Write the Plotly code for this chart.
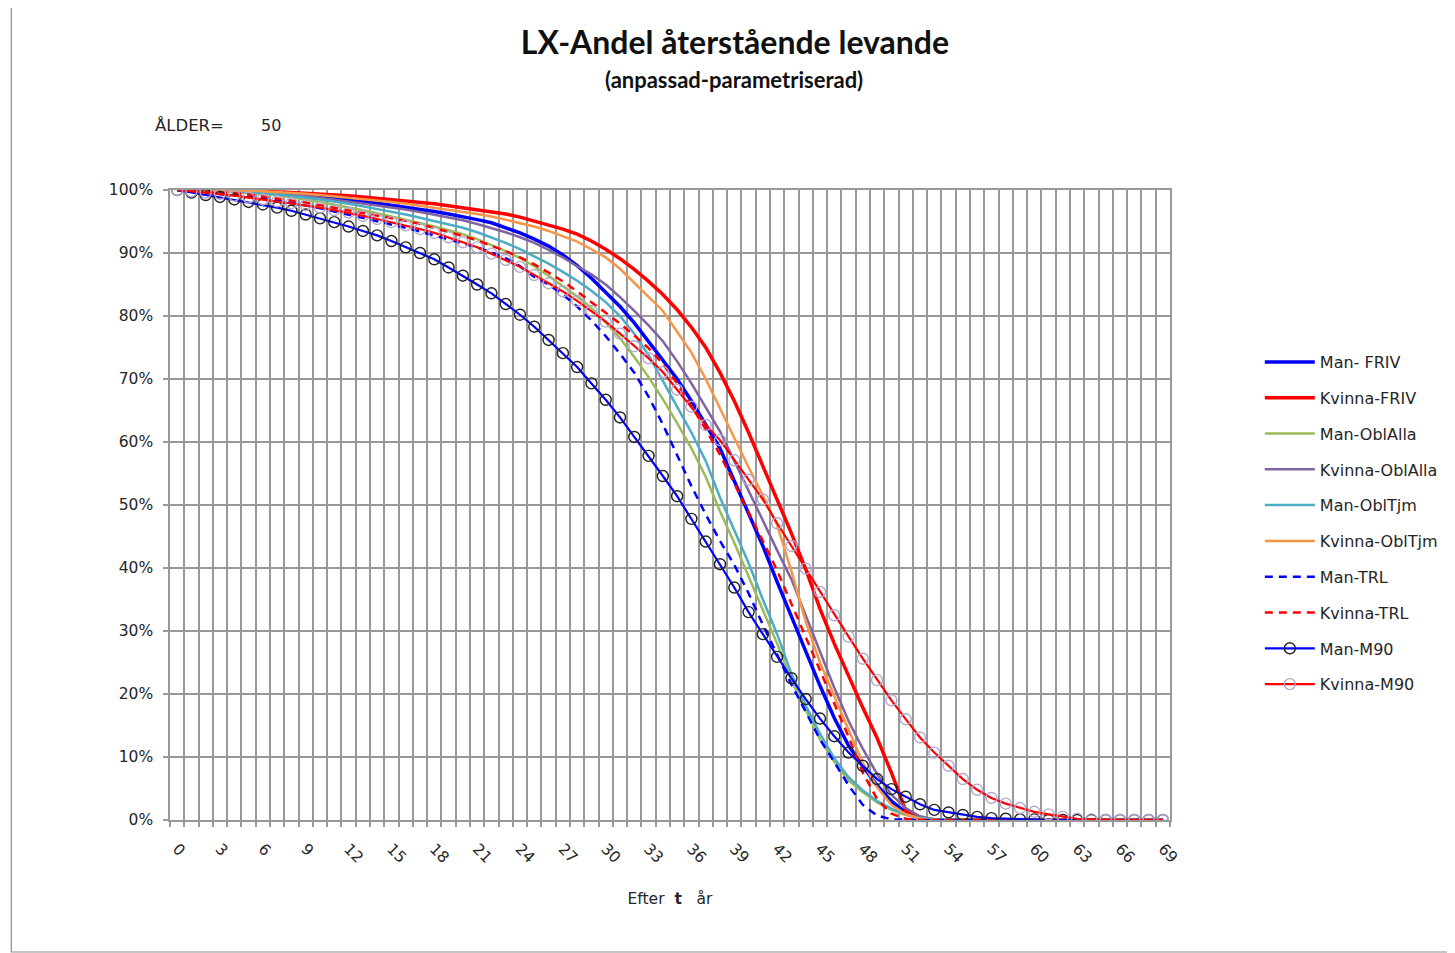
import plotly.graph_objects as go

t_years = list(range(70))
tick_labels = [str(v) for v in range(0, 70, 3)]

man_friv = [1.000,1.000,0.999,0.999,0.998,0.997,0.996,0.995,0.993,0.991,
            0.989,0.987,0.985,0.982,0.979,0.976,0.973,0.970,0.966,0.962,
            0.958,0.953,0.948,0.940,0.932,0.922,0.911,0.897,0.880,0.860,
            0.838,0.815,0.789,0.760,0.730,0.700,0.665,0.628,0.590,0.538,
            0.487,0.435,0.378,0.322,0.268,0.213,0.162,0.118,0.085,0.055,
            0.030,0.012,0.003,0,0,0,0,0,0,0,
            0,0,0,0,0,0,0,0,0,0]
kvinna_friv = [1.000,1.000,1.000,0.999,0.999,0.998,0.998,0.997,0.996,0.995,
               0.994,0.993,0.991,0.989,0.987,0.985,0.983,0.981,0.978,0.975,
               0.972,0.969,0.966,0.962,0.957,0.951,0.945,0.938,0.930,0.919,
               0.906,0.891,0.874,0.855,0.834,0.810,0.782,0.750,0.710,0.665,
               0.615,0.562,0.510,0.455,0.398,0.335,0.280,0.228,0.178,0.130,
               0.075,0.015,0.002,0,0,0,0,0,0,0,
               0,0,0,0,0,0,0,0,0,0]
man_oblalla = [1.000,1.000,0.999,0.998,0.997,0.995,0.994,0.992,0.989,0.985,
               0.981,0.977,0.973,0.968,0.963,0.958,0.953,0.948,0.942,0.936,
               0.930,0.922,0.913,0.903,0.892,0.879,0.864,0.848,0.831,0.813,
               0.790,0.765,0.735,0.703,0.668,0.630,0.590,0.545,0.490,0.440,
               0.387,0.335,0.280,0.222,0.175,0.128,0.092,0.063,0.044,0.028,
               0.016,0.008,0.003,0.001,0,0,0,0,0,0,
               0,0,0,0,0,0,0,0,0,0]
kvinna_oblalla = [1.000,1.000,1.000,0.999,0.999,0.998,0.997,0.996,0.994,0.991,
                  0.988,0.985,0.982,0.979,0.976,0.973,0.969,0.965,0.961,0.957,
                  0.952,0.946,0.940,0.933,0.925,0.916,0.905,0.893,0.879,0.866,
                  0.850,0.830,0.808,0.785,0.760,0.728,0.693,0.655,0.617,0.570,
                  0.522,0.475,0.428,0.382,0.325,0.265,0.210,0.157,0.113,0.073,
                  0.040,0.019,0.006,0.001,0,0,0,0,0,0,
                  0,0,0,0,0,0,0,0,0,0]
man_obltjm = [1.000,1.000,0.999,0.999,0.998,0.997,0.995,0.993,0.991,0.988,
              0.985,0.982,0.978,0.974,0.970,0.966,0.961,0.956,0.951,0.946,
              0.940,0.933,0.925,0.916,0.906,0.895,0.883,0.870,0.856,0.840,
              0.822,0.800,0.772,0.738,0.697,0.655,0.615,0.570,0.512,0.460,
              0.408,0.350,0.295,0.232,0.182,0.137,0.098,0.068,0.047,0.030,
              0.018,0.009,0.003,0.001,0,0,0,0,0,0,
              0,0,0,0,0,0,0,0,0,0]
kvinna_obltjm = [1.000,1.000,1.000,1.000,0.999,0.999,0.998,0.997,0.996,0.994,
                 0.992,0.990,0.988,0.986,0.984,0.981,0.978,0.975,0.972,0.969,
                 0.966,0.962,0.958,0.953,0.948,0.942,0.935,0.927,0.918,0.906,
                 0.893,0.875,0.853,0.830,0.808,0.775,0.742,0.700,0.653,0.605,
                 0.560,0.515,0.468,0.395,0.315,0.250,0.196,0.142,0.090,0.052,
                 0.024,0.009,0.002,0,0,0,0,0,0,0,
                 0,0,0,0,0,0,0,0,0,0]
man_trl = [1.000,0.998,0.996,0.994,0.992,0.990,0.987,0.984,0.980,0.976,
           0.971,0.966,0.961,0.956,0.951,0.946,0.940,0.934,0.928,0.922,
           0.916,0.909,0.901,0.892,0.879,0.862,0.850,0.834,0.815,0.793,
           0.768,0.740,0.710,0.672,0.628,0.580,0.530,0.485,0.443,0.405,
           0.360,0.310,0.262,0.215,0.172,0.128,0.092,0.055,0.024,0.007,
           0.001,0,0,0,0,0,0,0,0,0,
           0,0,0,0,0,0,0,0,0,0]
kvinna_trl = [1.000,0.999,0.998,0.997,0.995,0.993,0.990,0.987,0.984,0.980,
              0.976,0.972,0.968,0.964,0.960,0.956,0.951,0.946,0.940,0.934,
              0.927,0.920,0.912,0.903,0.893,0.882,0.869,0.855,0.839,0.822,
              0.806,0.788,0.769,0.749,0.724,0.693,0.657,0.620,0.580,0.535,
              0.488,0.443,0.396,0.343,0.290,0.238,0.185,0.132,0.075,0.033,
              0.010,0.002,0,0,0,0,0,0,0,0,
              0,0,0,0,0,0,0,0,0,0]
man_m90 = [1.000,0.996,0.992,0.989,0.985,0.981,0.977,0.972,0.967,0.961,
           0.955,0.949,0.942,0.935,0.928,0.919,0.909,0.900,0.890,0.877,
           0.864,0.850,0.836,0.819,0.802,0.783,0.762,0.741,0.719,0.693,
           0.667,0.639,0.608,0.578,0.546,0.514,0.478,0.442,0.406,0.369,
           0.330,0.295,0.259,0.225,0.192,0.161,0.133,0.107,0.086,0.065,
           0.049,0.037,0.025,0.016,0.012,0.008,0.005,0.003,0.002,0.001,
           0.001,0,0,0,0,0,0,0,0,0]
kvinna_m90 = [1.000,0.998,0.996,0.994,0.991,0.988,0.985,0.982,0.979,0.976,
              0.972,0.968,0.964,0.959,0.954,0.949,0.944,0.938,0.932,0.925,
              0.917,0.909,0.899,0.889,0.878,0.865,0.852,0.839,0.824,0.808,
              0.791,0.772,0.752,0.733,0.711,0.683,0.656,0.627,0.603,0.571,
              0.540,0.509,0.471,0.435,0.399,0.362,0.325,0.291,0.256,0.222,
              0.190,0.160,0.131,0.107,0.086,0.065,0.048,0.035,0.026,0.019,
              0.013,0.009,0.005,0.002,0.001,0,0,0,0,0]

series = [
    ("Man- FRIV", man_friv, "#0000FF", 3.5, "solid", None),
    ("Kvinna-FRIV", kvinna_friv, "#FF0000", 3.5, "solid", None),
    ("Man-OblAlla", man_oblalla, "#9BBB59", 2.5, "solid", None),
    ("Kvinna-OblAlla", kvinna_oblalla, "#8064A2", 2.5, "solid", None),
    ("Man-OblTjm", man_obltjm, "#4BACC6", 2.5, "solid", None),
    ("Kvinna-OblTjm", kvinna_obltjm, "#F79646", 2.5, "solid", None),
    ("Man-TRL", man_trl, "#0000FF", 2.5, "8px,6px", None),
    ("Kvinna-TRL", kvinna_trl, "#FF0000", 2.5, "8px,6px", None),
    ("Man-M90", man_m90, "#0000FF", 2.2, "solid", "#222222"),
    ("Kvinna-M90", kvinna_m90, "#FF0000", 2.2, "solid", "#B3A8D0"),
]

fig = go.Figure()
for i, (name, vals, color, width, dash, mcol) in enumerate(series):
    kw = {}
    if mcol:
        mode = "lines+markers"
        kw["marker"] = dict(symbol="circle-open", size=11, color=mcol, line=dict(width=1.4, color=mcol))
    else:
        mode = "lines"
    fig.add_trace(go.Scatter(x=t_years, y=vals, name=name, mode=mode,
                             line=dict(color=color, width=width, dash=dash),
                             legendgroup=f"g{i}", **kw))

grid = "#999999"
txt = "#262626"
boundaries = [k - 0.5 for k in range(71)]
fig.update_xaxes(range=[-0.5, 69.5], tickmode="array",
                 tickvals=list(range(0, 70, 3)), ticktext=tick_labels,
                 tickangle=45, showgrid=False, ticks="",
                 showline=True, linecolor=grid, linewidth=1.5, mirror=True,
                 tickfont=dict(family="DejaVu Sans", size=15.5, color=txt),
                 ticklabelstandoff=12,
                 minor=dict(tickmode="array", tickvals=boundaries, showgrid=True,
                            gridcolor=grid, gridwidth=1.5, ticks="outside",
                            ticklen=5, tickcolor=grid, tickwidth=1.5),
                 title=dict(text="Efter  <b>t</b>   år", standoff=27,
                            font=dict(family="DejaVu Sans", size=15.5, color=txt)),
                 zeroline=False)
fig.update_yaxes(range=[0, 1], tickmode="array",
                 tickvals=[k / 10 for k in range(11)],
                 ticktext=[f"{k*10}%" for k in range(11)],
                 showgrid=True, gridcolor=grid, gridwidth=1.5,
                 ticks="outside", ticklen=5, tickcolor=grid, tickwidth=1.5,
                 showline=True, linecolor=grid, linewidth=1.5, mirror=True,
                 tickfont=dict(family="DejaVu Sans", size=15.5, color=txt),
                 ticklabelstandoff=7, zeroline=False)

W, H = 1447, 945
fig.update_layout(
    width=W, height=H,
    margin=dict(l=162, r=W - 1164, t=182, b=H - 812),
    paper_bgcolor="white", plot_bgcolor="white",
    title=dict(text="<b>LX-Andel återstående levande</b>", x=(735 - 8) / W, xanchor="center",
               y=1 - (43 - 8) / H, yanchor="middle",
               font=dict(family="Lato", size=32, color="#111111")),
    legend=dict(x=(1262 - 170) / 1002, y=(820 - 345) / 630, xanchor="left", yanchor="top",
                font=dict(family="DejaVu Sans", size=16, color=txt),
                itemwidth=50, tracegroupgap=12, traceorder="grouped",
                bgcolor="rgba(0,0,0,0)"),
    showlegend=True,
)

fig.add_annotation(text="<b>(anpassad-parametriserad)</b>", xref="paper", yref="paper",
                   x=(735 - 170) / 1002, y=(820 - 80) / 630, showarrow=False,
                   font=dict(family="Lato", size=22, color="#111111"),
                   xanchor="center", yanchor="middle")
fig.add_annotation(text="ÅLDER=", xref="paper", yref="paper",
                   x=(153 - 170) / 1002, y=(820 - 126) / 630, showarrow=False,
                   font=dict(family="DejaVu Sans", size=16.5, color=txt),
                   xanchor="left", yanchor="middle")
fig.add_annotation(text="50", xref="paper", yref="paper",
                   x=(259 - 170) / 1002, y=(820 - 126) / 630, showarrow=False,
                   font=dict(family="DejaVu Sans", size=16, color=txt),
                   xanchor="left", yanchor="middle")
fig.add_shape(type="rect", xref="paper", yref="paper",
              x0=(11 - 170) / 1002, x1=(1470 - 170) / 1002,
              y0=(820 - 952) / 630, y1=(820 - 6) / 630,
              line=dict(color="#8C8C8C", width=1.2), layer="below")

fig.write_html("out.html")
